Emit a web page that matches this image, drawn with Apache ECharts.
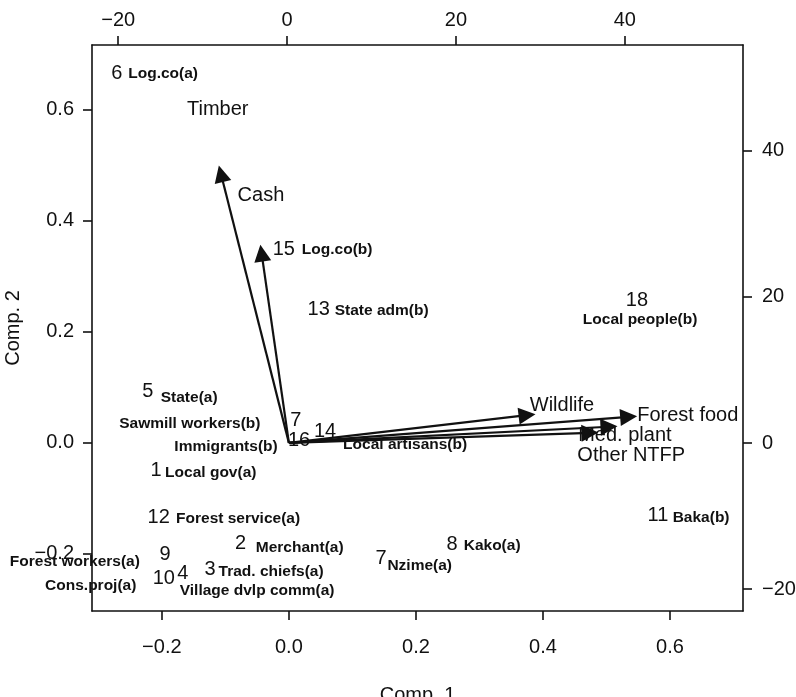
<!DOCTYPE html>
<html>
<head>
<meta charset="utf-8">
<script src="https://cdn.jsdelivr.net/npm/echarts@6/dist/echarts.min.js"></script>
<style>
html, body { margin: 0; padding: 0; background: #fff; }
#chart { width: 796px; height: 697px; }
</style>
</head>
<body>
<div id="chart"></div>
<script>
// observation numbers, placed at their scores
var obsLabels = ['6', '15', '13', '18', '5', '7', '14', '16', '1', '12', '11', '2', '8', '9', '7', '3', '4', '10'];
var obsX = [-0.271, -0.008, 0.047, 0.548, -0.222, 0.011, 0.057, 0.016, -0.209, -0.205, 0.581, -0.076, 0.257, -0.195, 0.145, -0.124, -0.167, -0.197];
var obsY = [0.665, 0.348, 0.241, 0.256, 0.092, 0.041, 0.020, 0.004, -0.050, -0.135, -0.130, -0.182, -0.184, -0.202, -0.209, -0.229, -0.236, -0.245];

// stakeholder names written next to the numbers
var groupNames = ['Log.co(a)', 'Log.co(b)', 'State adm(b)', 'Local people(b)', 'State(a)', 'Sawmill workers(b)',
  'Immigrants(b)', 'Local artisans(b)', 'Local gov(a)', 'Forest service(a)', 'Merchant(a)', 'Forest workers(a)',
  'Trad. chiefs(a)', 'Cons.proj(a)', 'Village dvlp comm(a)', 'Nzime(a)', 'Kako(a)', 'Baka(b)'];
var groupX = [-0.198, 0.076, 0.146, 0.553, -0.157, -0.156, -0.099, 0.183, -0.123, -0.080, 0.017, -0.337, -0.028, -0.312, -0.050, 0.206, 0.320, 0.649];
var groupY = [0.665, 0.348, 0.238, 0.222, 0.081, 0.034, -0.007, -0.004, -0.054, -0.137, -0.189, -0.214, -0.232, -0.258, -0.267, -0.222, -0.186, -0.135];

// loading arrows (tips) and variable labels
var arrowX = [-0.107, -0.043, 0.375, 0.535, 0.504, 0.474];
var arrowY = [0.485, 0.342, 0.050, 0.047, 0.029, 0.018];
var varNames = ['Timber', 'Cash', 'Wildlife', 'Forest food', 'Med. plant', 'Other NTFP'];
var varX = [-0.112, -0.044, 0.430, 0.628, 0.529, 0.539];
var varY = [0.600, 0.445, 0.067, 0.049, 0.013, -0.023];

// tick labels
var xTicks = [-0.2, 0, 0.2, 0.4, 0.6];
var xTickLabels = ['\u22120.2', '0.0', '0.2', '0.4', '0.6'];
var yTicks = [-0.2, 0, 0.2, 0.4, 0.6];
var yTickLabels = ['\u22120.2', '0.0', '0.2', '0.4', '0.6'];
var topTicks = [-20, 0, 20, 40];
var topTickLabels = ['\u221220', '0', '20', '40'];
var rightTicks = [-20, 0, 20, 40];
var rightTickLabels = ['\u221220', '0', '20', '40'];

var FONT = '"Liberation Sans", Arial, Helvetica, sans-serif';
var INK = '#111';

function lookup(vals, labs) {
  return function (v) {
    for (var i = 0; i < vals.length; i++) {
      if (Math.abs(vals[i] - v) < 1e-9) return labs[i];
    }
    return '';
  };
}

function axisBase() {
  return {
    type: 'value',
    scale: true,
    splitLine: { show: false },
    axisLine: { show: true, onZero: false, lineStyle: { color: INK, width: 1.6 } },
    axisTick: { show: true, length: 9, lineStyle: { color: INK, width: 1.6 } },
    axisLabel: { color: INK, fontFamily: FONT, fontSize: 20 }
  };
}

var xBottom = axisBase();
xBottom.position = 'bottom';
xBottom.min = -0.31; xBottom.max = 0.715;
xBottom.axisTick.customValues = xTicks;
xBottom.axisLabel.customValues = xTicks;
xBottom.axisLabel.formatter = lookup(xTicks, xTickLabels);
xBottom.axisLabel.margin = 26;
xBottom.name = 'Comp. 1';
xBottom.nameLocation = 'middle';
xBottom.nameGap = 74;
xBottom.nameTextStyle = { color: INK, fontFamily: FONT, fontSize: 20 };

var xTop = axisBase();
xTop.position = 'top';
xTop.min = -23.1; xTop.max = 54.0;
xTop.axisTick.customValues = topTicks;
xTop.axisLabel.customValues = topTicks;
xTop.axisLabel.formatter = lookup(topTicks, topTickLabels);
xTop.axisLabel.margin = 15;

var yLeft = axisBase();
yLeft.position = 'left';
yLeft.min = -0.303; yLeft.max = 0.717;
yLeft.axisTick.customValues = yTicks;
yLeft.axisLabel.customValues = yTicks;
yLeft.axisLabel.formatter = lookup(yTicks, yTickLabels);
yLeft.axisLabel.margin = 18;
yLeft.name = 'Comp. 2';
yLeft.nameLocation = 'middle';
yLeft.nameGap = 58;
yLeft.nameTextStyle = { color: INK, fontFamily: FONT, fontSize: 20 };

var yRight = axisBase();
yRight.position = 'right';
yRight.min = -23.0; yRight.max = 54.5;
yRight.axisTick.customValues = rightTicks;
yRight.axisLabel.customValues = rightTicks;
yRight.axisLabel.formatter = lookup(rightTicks, rightTickLabels);
yRight.axisLabel.margin = 19;

function textSeries(xs, ys, labs, size, weight) {
  var d = [];
  for (var i = 0; i < xs.length; i++) d.push([xs[i], ys[i], labs[i]]);
  return {
    type: 'scatter',
    xAxisIndex: 0, yAxisIndex: 0,
    clip: false,
    symbolSize: 1,
    itemStyle: { color: 'transparent', opacity: 1 },
    label: {
      show: true, position: 'inside',
      formatter: function (p) { return p.data[2]; },
      color: INK, opacity: 1, fontFamily: FONT, fontSize: size, fontWeight: weight
    },
    emphasis: { disabled: true },
    data: d,
    z: 5
  };
}

var arrows = [];
for (var i = 0; i < arrowX.length; i++) {
  arrows.push({ coords: [[0, 0], [arrowX[i], arrowY[i]]] });
}

var chart = echarts.init(document.getElementById('chart'));
chart.setOption({
  animation: false,
  backgroundColor: '#fff',
  grid: { left: 92, right: 53, top: 45, bottom: 86, containLabel: false, outerBoundsMode: 'none' },
  xAxis: [xBottom, xTop],
  yAxis: [yLeft, yRight],
  series: [
    {
      type: 'lines',
      coordinateSystem: 'cartesian2d',
      xAxisIndex: 0, yAxisIndex: 0,
      symbol: ['none', 'triangle'],
      symbolSize: [12, 17],
      symbolOffset: [0, 8],
      lineStyle: { color: INK, width: 2.2, opacity: 1 },
      data: arrows,
      z: 3
    },
    textSeries(obsX, obsY, obsLabels, 20, 'normal'),
    textSeries(groupX, groupY, groupNames, 15.5, 'bold'),
    textSeries(varX, varY, varNames, 20, 'normal')
  ]
});
</script>
</body>
</html>
